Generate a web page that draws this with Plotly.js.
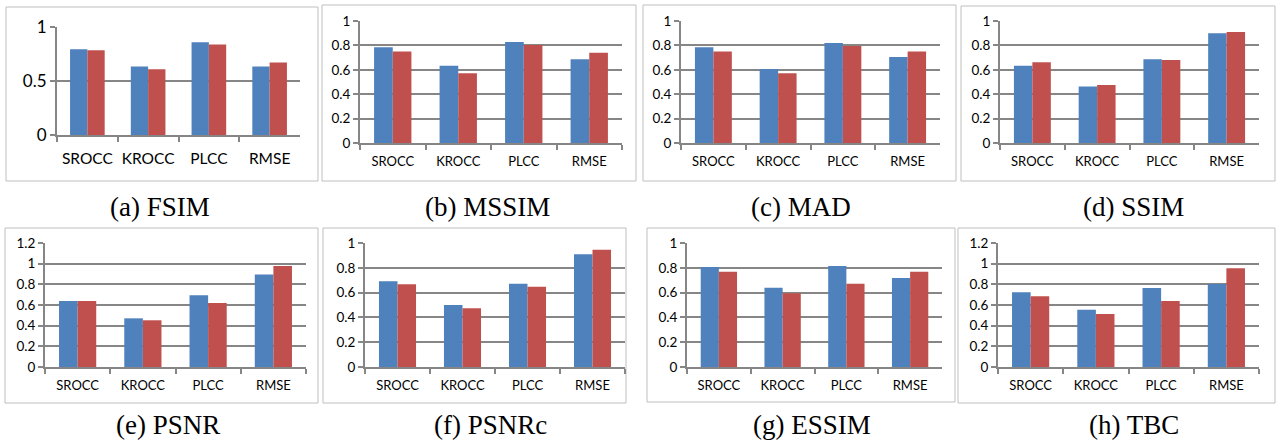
<!DOCTYPE html>
<html>
<head>
<meta charset="utf-8">
<script src="https://cdn.plot.ly/plotly-3.0.1.min.js"></script>
<style>html,body{margin:0;padding:0;background:#fff;}#chart{width:1279px;height:443px;}</style>
</head>
<body>
<div id="chart"></div>
<script>
const categories = ['SROCC', 'KROCC', 'PLCC', 'RMSE'];
const panelTitles = ['(a) FSIM', '(b) MSSIM', '(c) MAD', '(d) SSIM', '(e) PSNR', '(f) PSNRc', '(g) ESSIM', '(h) TBC'];

const fsimBlue   = [0.794, 0.634, 0.858, 0.634];
const fsimRed    = [0.785, 0.609, 0.837, 0.671];
const mssimBlue  = [0.784, 0.634, 0.828, 0.686];
const mssimRed   = [0.749, 0.571, 0.803, 0.740];
const madBlue    = [0.784, 0.607, 0.820, 0.705];
const madRed     = [0.749, 0.571, 0.795, 0.749];
const ssimBlue   = [0.634, 0.464, 0.686, 0.899];
const ssimRed    = [0.661, 0.475, 0.680, 0.910];
const psnrBlue   = [0.639, 0.471, 0.694, 0.894];
const psnrRed    = [0.639, 0.452, 0.619, 0.977];
const psnrcBlue  = [0.691, 0.500, 0.672, 0.909];
const psnrcRed   = [0.667, 0.473, 0.648, 0.946];
const essimBlue  = [0.806, 0.640, 0.815, 0.718];
const essimRed   = [0.769, 0.594, 0.672, 0.769];
const tbcBlue    = [0.723, 0.555, 0.765, 0.803];
const tbcRed     = [0.684, 0.513, 0.639, 0.955];

const blueSeries = [fsimBlue, mssimBlue, madBlue, ssimBlue, psnrBlue, psnrcBlue, essimBlue, tbcBlue];
const redSeries  = [fsimRed, mssimRed, madRed, ssimRed, psnrRed, psnrcRed, essimRed, tbcRed];
const yMax   = [1, 1, 1, 1, 1.2, 1, 1, 1.2];
const yDtick = [0.5, 0.2, 0.2, 0.2, 0.2, 0.2, 0.2, 0.2];

// layout geometry (pixels)
const W = 1279, H = 443;
const plotBoxes = [
  [57, 300, 27, 135], [360, 622, 21, 143], [681, 940, 21, 143], [1000, 1259, 21, 143],
  [45, 306, 243, 367], [365, 625, 243, 367], [687, 942, 243, 367], [998, 1259, 243, 367]
];
const frames = [
  [6, 318, 7, 181], [322, 636, 5, 181], [643, 956, 5, 181], [961, 1275, 6, 181],
  [5, 318, 228, 403], [323, 626, 228, 403], [647, 955, 228, 402], [958, 1275, 228, 403]
];
const titlePos = [[160, 207], [487, 207], [801, 207], [1133, 207], [168, 425], [490, 425], [812, 425], [1134, 425]];

const BLUE = '#4F81BD', RED = '#C0504D', GRID = '#868686';
const tickFamily = 'Lato, "Open Sans", sans-serif';

const data = [];
const layout = {
  width: W, height: H,
  margin: {l: 0, r: 0, t: 0, b: 0},
  paper_bgcolor: '#ffffff', plot_bgcolor: 'rgba(0,0,0,0)',
  showlegend: false, barmode: 'group', bargap: 0.43, bargroupgap: 0,
  shapes: [], annotations: []
};

for (let i = 0; i < 8; i++) {
  const s = i === 0 ? '' : String(i + 1);
  const xa = 'x' + s, ya = 'y' + s;
  data.push({type: 'bar', x: categories, y: blueSeries[i], xaxis: xa, yaxis: ya,
             marker: {color: BLUE}, hoverinfo: 'skip'});
  data.push({type: 'bar', x: categories, y: redSeries[i], xaxis: xa, yaxis: ya,
             marker: {color: RED}, hoverinfo: 'skip'});
  const b = plotBoxes[i];
  const fx = i === 0 ? 15.5 : 13;
  const fy = i === 0 ? 17 : 13.5;
  layout['xaxis' + s] = {
    domain: [b[0] / W, b[1] / W], anchor: ya, type: 'category',
    range: [-0.5, 3.5], showgrid: false, zeroline: false,
    showline: true, linecolor: GRID, linewidth: 2,
    ticks: 'outside', tickson: 'boundaries', ticklen: 5, tickcolor: GRID, tickwidth: 2,
    tickangle: 0, ticklabelstandoff: i === 0 ? 8 : 5,
    tickfont: {family: tickFamily, size: fx, color: '#000'}, fixedrange: true
  };
  layout['yaxis' + s] = {
    domain: [1 - b[3] / H, 1 - b[2] / H], anchor: xa,
    range: [0, yMax[i]], dtick: yDtick[i], tick0: 0,
    showgrid: true, gridcolor: GRID, gridwidth: 2, zeroline: false,
    showline: true, linecolor: GRID, linewidth: 2,
    ticks: 'outside', ticklen: 5, tickcolor: GRID, tickwidth: 2,
    tickfont: {family: tickFamily, size: fy, color: '#000'}, fixedrange: true
  };
  const f = frames[i];
  layout.shapes.push({type: 'rect', xref: 'paper', yref: 'paper',
    x0: f[0] / W, x1: f[1] / W, y0: 1 - f[3] / H, y1: 1 - f[2] / H,
    line: {color: '#BFBFBF', width: 1}, fillcolor: 'rgba(0,0,0,0)', layer: 'below'});
  const t = titlePos[i];
  layout.annotations.push({xref: 'paper', yref: 'paper', x: t[0] / W, y: 1 - t[1] / H,
    xanchor: 'center', yanchor: 'middle', showarrow: false, text: panelTitles[i],
    font: {family: '"Liberation Serif", "Times New Roman", serif', size: 27, color: '#000'}});
}

Plotly.newPlot('chart', data, layout, {staticPlot: true, displayModeBar: false});
</script>
</body>
</html>
